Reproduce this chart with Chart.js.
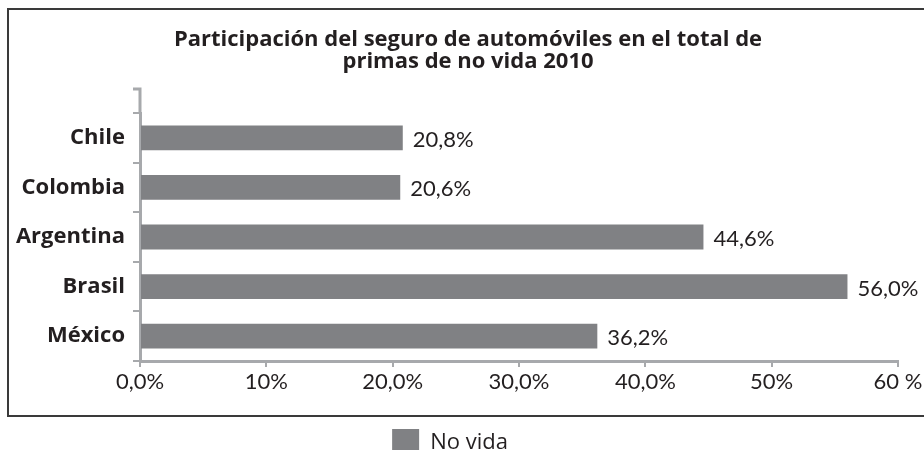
<!DOCTYPE html>
<html>
<head>
<meta charset="utf-8">
<script src="https://cdn.jsdelivr.net/npm/chart.js@4.4.0/dist/chart.umd.min.js"></script>
<style>
  html, body { margin: 0; padding: 0; background: #fff; }
  body { width: 924px; height: 450px; overflow: hidden; position: relative; }
  #frame {
    position: absolute; left: 7px; top: 8px; width: 940px; height: 405px;
    border: 2px solid #3a3a3a;
  }
  #chart { position: absolute; left: 0; top: 0; }
</style>
</head>
<body>
<div id="frame"></div>
<canvas id="chart" width="936" height="470"></canvas>
<script>
// chart data
const TITLE_LINES = ['Participación del seguro de automóviles en el total de', 'primas de no vida 2010'];
const COUNTRIES = ['Chile', 'Colombia', 'Argentina', 'Brasil', 'México'];
const NO_VIDA = [20.8, 20.6, 44.6, 56.0, 36.2];
const SERIES_NAME = 'No vida';
const X_TICK_LABELS = ['0,0%', '10%', '20,0%', '30,0%', '40,0%', '50%', '60 %'];

const BAR_COLOR = '#808184';
const AXIS_COLOR = '#a7a9ac';
const TEXT_COLOR = '#231f20';

function fmtPct(v) {
    return v.toFixed(1).replace('.', ',') + '%';
}

// value labels to the right of each bar
const valueLabels = {
    id: 'valueLabels',
    afterDatasetsDraw(chart) {
        const ctx = chart.ctx;
        const meta = chart.getDatasetMeta(0);
        ctx.save();
        ctx.font = '22px Lato';
        ctx.fillStyle = TEXT_COLOR;
        ctx.textAlign = 'left';
        ctx.textBaseline = 'middle';
        meta.data.forEach((bar, i) => {
            ctx.fillText(fmtPct(NO_VIDA[i]), bar.x + 10, bar.y + 2);
        });
        ctx.restore();
    }
};

// the category axis line runs a bit above the first band, ending in a small hook
const axisCap = {
    id: 'axisCap',
    afterDraw(chart) {
        const y = chart.scales.y;
        const ctx = chart.ctx;
        const x = y.right;
        ctx.save();
        ctx.strokeStyle = AXIS_COLOR;
        ctx.lineWidth = 3;
        ctx.beginPath();
        ctx.moveTo(x - 7, y.top - 24);
        ctx.lineTo(x, y.top - 24);
        ctx.lineTo(x, y.top);
        ctx.stroke();
        ctx.restore();
    }
};

// legend sits a little left of the title centre in the original
const legendShift = {
    id: 'legendShift',
    afterLayout(chart) {
        chart.legend.left -= 18;
        chart.legend.right -= 18;
    }
};

new Chart(document.getElementById('chart'), {
    type: 'bar',
    data: {
        labels: COUNTRIES,
        datasets: [{
            label: SERIES_NAME,
            data: NO_VIDA,
            backgroundColor: BAR_COLOR,
            borderWidth: 0,
            categoryPercentage: 1,
            barPercentage: 0.5
        }]
    },
    options: {
        indexAxis: 'y',
        responsive: false,
        animation: false,
        layout: { padding: { top: 0, left: 0, right: 0, bottom: 4 } },
        scales: {
            x: {
                min: 0,
                max: 60,
                afterFit: s => { s.height = 58; },
                ticks: {
                    stepSize: 10,
                    padding: 2,
                    color: TEXT_COLOR,
                    font: { family: 'Lato', size: 22 },
                    callback: (v, i) => X_TICK_LABELS[i]
                },
                grid: {
                    drawOnChartArea: false,
                    drawTicks: true,
                    tickLength: 6,
                    color: AXIS_COLOR,
                    lineWidth: 2
                },
                border: { display: true, color: AXIS_COLOR, width: 3 }
            },
            y: {
                afterFit: s => { s.width = 140; },
                ticks: {
                    padding: 8,
                    color: TEXT_COLOR,
                    font: { family: 'Open Sans', size: 22, weight: 'bold' }
                },
                grid: {
                    drawOnChartArea: false,
                    drawTicks: true,
                    tickLength: 7,
                    color: AXIS_COLOR,
                    lineWidth: 2
                },
                border: { display: true, color: AXIS_COLOR, width: 3 }
            },
            // empty right-hand spacer so the plot stops short of the frame
            spacer: {
                type: 'linear',
                position: 'right',
                afterFit: s => { s.width = 38; },
                ticks: { display: false },
                grid: { display: false },
                border: { display: false }
            }
        },
        plugins: {
            title: {
                display: true,
                text: TITLE_LINES,
                color: TEXT_COLOR,
                font: { family: 'Open Sans', size: 22, weight: 'bold', lineHeight: 1.0 },
                padding: { top: 29, bottom: 40 }
            },
            legend: {
                display: true,
                position: 'bottom',
                labels: {
                    boxWidth: 27,
                    boxHeight: 27,
                    padding: 10,
                    color: TEXT_COLOR,
                    font: { family: 'Open Sans', size: 22 }
                }
            },
            tooltip: { enabled: false }
        }
    },
    plugins: [valueLabels, axisCap, legendShift]
});
</script>
</body>
</html>
